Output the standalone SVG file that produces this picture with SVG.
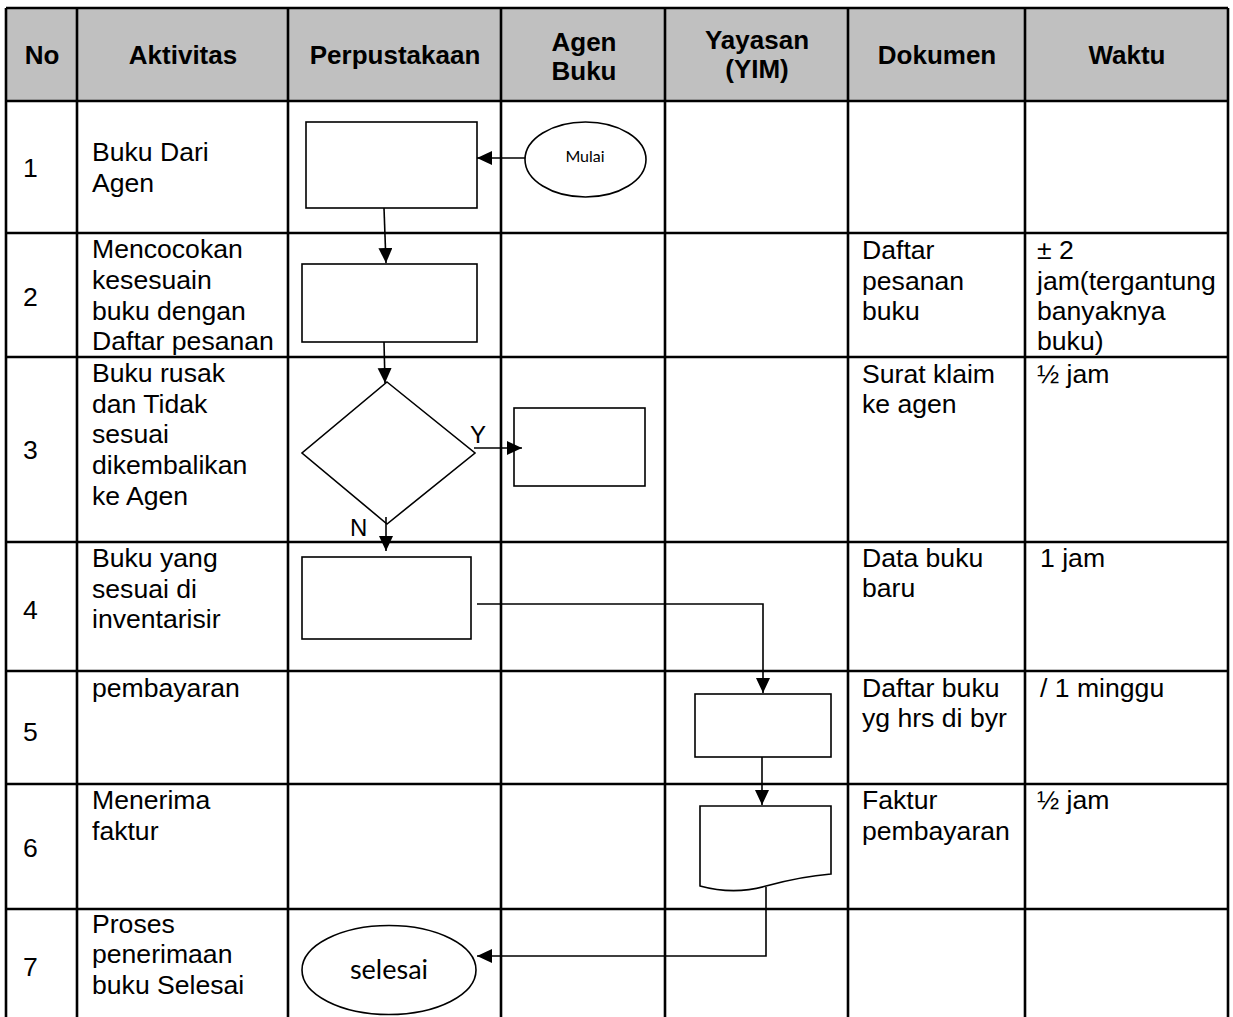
<svg xmlns="http://www.w3.org/2000/svg" width="1233" height="1017" viewBox="0 0 1233 1017">
<defs>
<style>
.grid{stroke:#000;stroke-width:2.6;fill:none}
.hd{font-family:"Liberation Sans",Arial,sans-serif;font-weight:bold;font-size:26px;fill:#000;text-anchor:middle}
.tx{font-family:"Liberation Sans",Arial,sans-serif;font-size:26.6px;fill:#000}
.shape{fill:#fff;stroke:#000;stroke-width:1.6}
.conn{fill:none;stroke:#000;stroke-width:1.6}
.term{font-family:Lato,"Open Sans",sans-serif;fill:#000;text-anchor:middle}
.lbl{font-family:"Liberation Sans",Arial,sans-serif;font-size:24px;fill:#000}
</style>
<marker id="ah" markerUnits="userSpaceOnUse" markerWidth="16" markerHeight="16" refX="15" refY="7" orient="auto">
<path d="M0,0 L15,7 L0,14 Z" fill="#000"/>
</marker>
</defs>
<rect width="1233" height="1017" fill="#fff"/>
<g id="table">
<rect x="6" y="8" width="1222" height="93" fill="#c0c0c0"/>
<path class="grid" d="M6,8 H1228 M6,101 H1228 M6,233 H1228 M6,357 H1228 M6,542 H1228 M6,671 H1228 M6,784 H1228 M6,909 H1228"/>
<path class="grid" d="M6,8 V1017 M77,8 V1017 M288,8 V1017 M501,8 V1017 M665,8 V1017 M848,8 V1017 M1025,8 V1017 M1228,8 V1017"/>
<text class="hd" x="42" y="64">No</text>
<text class="hd" x="183" y="64">Aktivitas</text>
<text class="hd" x="395" y="64">Perpustakaan</text>
<text class="hd" x="584" y="51">Agen</text>
<text class="hd" x="584" y="80">Buku</text>
<text class="hd" x="757" y="49">Yayasan</text>
<text class="hd" x="757" y="78">(YIM)</text>
<text class="hd" x="937" y="64">Dokumen</text>
<text class="hd" x="1127" y="64">Waktu</text>
</g>
<g id="col-no" class="tx">
<text x="23" y="177">1</text>
<text x="23" y="306">2</text>
<text x="23" y="459">3</text>
<text x="23" y="619">4</text>
<text x="23" y="741">5</text>
<text x="23" y="857">6</text>
<text x="23" y="976">7</text>
</g>
<g id="col-aktivitas" class="tx">
<text x="92" y="161">Buku Dari</text>
<text x="92" y="192">Agen</text>
<text x="92" y="258">Mencocokan</text>
<text x="92" y="289">kesesuain</text>
<text x="92" y="320">buku dengan</text>
<text x="92" y="350">Daftar pesanan</text>
<text x="92" y="382">Buku rusak</text>
<text x="92" y="413">dan Tidak</text>
<text x="92" y="443">sesuai</text>
<text x="92" y="474">dikembalikan</text>
<text x="92" y="505">ke Agen</text>
<text x="92" y="567">Buku yang</text>
<text x="92" y="598">sesuai di</text>
<text x="92" y="628">inventarisir</text>
<text x="92" y="697">pembayaran</text>
<text x="92" y="809">Menerima</text>
<text x="92" y="840">faktur</text>
<text x="92" y="933">Proses</text>
<text x="92" y="963">penerimaan</text>
<text x="92" y="994">buku Selesai</text>
</g>
<g id="col-dokumen" class="tx">
<text x="862" y="259">Daftar</text>
<text x="862" y="290">pesanan</text>
<text x="862" y="320">buku</text>
<text x="862" y="383">Surat klaim</text>
<text x="862" y="413">ke agen</text>
<text x="862" y="567">Data buku</text>
<text x="862" y="597">baru</text>
<text x="862" y="697">Daftar buku</text>
<text x="862" y="727">yg hrs di byr</text>
<text x="862" y="809">Faktur</text>
<text x="862" y="840">pembayaran</text>
</g>
<g id="col-waktu" class="tx">
<text x="1037" y="259">± 2</text>
<text x="1037" y="290">jam(tergantung</text>
<text x="1037" y="320">banyaknya</text>
<text x="1037" y="350">buku)</text>
<text x="1037" y="383">½ jam</text>
<text x="1040" y="567">1 jam</text>
<text x="1040" y="697">/ 1 minggu</text>
<text x="1037" y="809">½ jam</text>
</g>
<g id="node-mulai">
<ellipse class="shape" cx="585.5" cy="159.5" rx="60.5" ry="37.5"/>
<text class="term" x="585" y="162" font-size="16">Mulai</text>
</g>
<g id="node-buku-dari-agen"><rect class="shape" x="306" y="122" width="171" height="86"/></g>
<g id="node-mencocokan"><rect class="shape" x="302" y="264" width="175" height="78"/></g>
<g id="node-decision"><path class="shape" d="M387,382 L475,453 L387,524 L302,453 Z"/></g>
<g id="node-kembali-agen"><rect class="shape" x="514" y="408" width="131" height="78"/></g>
<g id="node-inventaris"><rect class="shape" x="302" y="557" width="169" height="82"/></g>
<g id="node-pembayaran"><rect class="shape" x="695" y="694" width="136" height="63"/></g>
<g id="node-faktur"><path class="shape" d="M700,806 H831 V874 C806,876 788,880 766,886 C742,893 722,892 700,886 Z"/></g>
<g id="node-selesai">
<ellipse class="shape" cx="389" cy="970" rx="87" ry="44.5"/>
<text class="term" x="389" y="979" font-size="27">selesai</text>
</g>
<g id="connectors">
<path class="conn" d="M525,158 H477" marker-end="url(#ah)"/>
<path class="conn" d="M384,208 L386,263" marker-end="url(#ah)"/>
<path class="conn" d="M384,342 L385,383" marker-end="url(#ah)"/>
<path class="conn" d="M474,448 H522" marker-end="url(#ah)"/>
<path class="conn" d="M386,517 V551" marker-end="url(#ah)"/>
<path class="conn" d="M477,604 H763 V693" marker-end="url(#ah)"/>
<path class="conn" d="M762,757 V805" marker-end="url(#ah)"/>
<path class="conn" d="M766,887 V956 H477" marker-end="url(#ah)"/>
<text class="lbl" x="470" y="443">Y</text>
<text class="lbl" x="350" y="536">N</text>
</g>
</svg>
